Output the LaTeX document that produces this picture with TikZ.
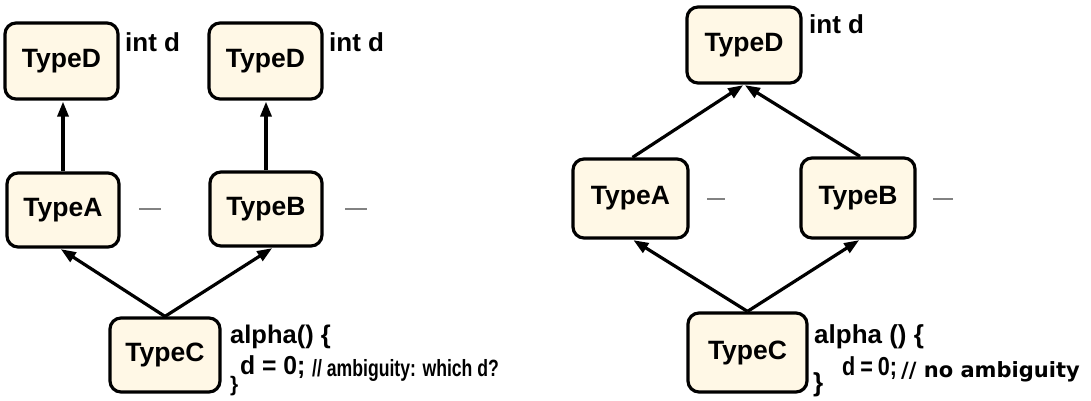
\documentclass[tikz,border=0pt]{standalone}
\usepackage{fontspec}
\setmainfont{Liberation Sans}
\newfontfamily\dvfont{DejaVu Sans}
\usepackage{graphicx}
\usetikzlibrary{arrows.meta}
\definecolor{boxfill}{RGB}{255,248,230}
\definecolor{dashgray}{RGB}{130,130,130}
\tikzset{
  tbox/.style={draw=black, line width=3.2pt, rounded corners=11pt, fill=boxfill,
    inner sep=0pt, font=\fontsize{26.5}{30}\selectfont\bfseries},
  conn/.style={line width=3.2pt, -{Triangle[length=15pt,width=11pt]}, shorten >=1pt},
  lbl/.style={anchor=base west, inner sep=0pt, font=\fontsize{25}{28}\selectfont\bfseries},
  dashmark/.style={draw=dashgray, line width=1.5pt}
}
\begin{document}
\begin{tikzpicture}[x=1pt,y=-1pt]
\useasboundingbox (0,0) rectangle (1091,400);
% ---------- left ----------
\node[tbox, minimum width=113pt, minimum height=76pt] (D1) at (61.5,61) {TypeD};
\node[tbox, minimum width=113pt, minimum height=76pt] (D2) at (265.5,61) {TypeD};
\node[tbox, minimum width=112pt, minimum height=74pt] (A1) at (63,210) {TypeA};
\node[tbox, minimum width=112pt, minimum height=74pt] (B1) at (266,209) {TypeB};
\node[tbox, minimum width=110pt, minimum height=74pt] (C1) at (165,355) {TypeC};
\node[lbl, font=\fontsize{26}{30}\selectfont\bfseries] (iD1) at (125,51) {int d};
\node[lbl, font=\fontsize{26}{30}\selectfont\bfseries] (iD2) at (329,51) {int d};
\coordinate (a1s) at (345,209); \coordinate (a1e) at (367,209);
\coordinate (m1s) at (139,209); \coordinate (m1e) at (161,209);
\draw[dashmark] (m1s) -- (m1e);
\draw[dashmark] (a1s) -- (a1e);
\draw[conn] (A1.north) -- (A1.north |- D1.south);
\draw[conn] (B1.north) -- (B1.north |- D2.south);
\draw[conn] (C1.north) -- ([xshift=-3pt]A1.south);
\draw[conn] (C1.north) -- ([xshift=7pt]B1.south);
\node[lbl, font=\fontsize{25.5}{28}\selectfont\bfseries] (al1) at (230,343) {alpha() \{};
\node[lbl, font=\fontsize{26}{28}\selectfont\bfseries] (d1) at (240,374) {\scalebox{0.95}[1]{d = 0;}};
\node[lbl, font=\fontsize{23.5}{26}\selectfont\bfseries] (c1) at (312,376) {\scalebox{0.75}[1]{// ambiguity: which d?}};
\node[lbl, font=\fontsize{21}{24}\selectfont\bfseries] (b1) at (230,391) {\}};
% ---------- right ----------
\node[tbox, minimum width=114pt, minimum height=76pt] (D) at (744,45) {TypeD};
\node[tbox, minimum width=115pt, minimum height=79pt] (A) at (630.5,198.5) {TypeA};
\node[tbox, minimum width=114pt, minimum height=80pt] (B) at (858,198) {TypeB};
\node[tbox, minimum width=119pt, minimum height=79pt] (C) at (747.5,352.5) {TypeC};
\node[lbl, font=\fontsize{26}{30}\selectfont\bfseries] (iD) at (809,33) {int d};
\coordinate (m2s) at (707,199); \coordinate (m2e) at (725,199);
\coordinate (n2s) at (933,199); \coordinate (n2e) at (953,199);
\draw[dashmark] (m2s) -- (m2e);
\draw[dashmark] (n2s) -- (n2e);
\draw[conn] ([xshift=2pt]A.north) -- (D.south);
\draw[conn] ([xshift=2pt]B.north) -- (D.south);
\draw[conn] (C.north) -- ([xshift=2pt]A.south);
\draw[conn] (C.north) -- ([xshift=2pt]B.south);
\node[lbl, font=\fontsize{26}{30}\selectfont\bfseries] (al2) at (814,343) {alpha () \{};
\node[lbl, font=\fontsize{26}{30}\selectfont\bfseries] (d2) at (842,375) {\scalebox{0.83}[1]{d\hspace{6pt}=\hspace{6pt}0;}};
\node[lbl, font=\fontsize{21}{25}\selectfont\dvfont\bfseries] (c2) at (901,377) {// no ambiguity};
\node[lbl, font=\fontsize{26}{30}\selectfont\bfseries] (b2) at (813,391) {\}};
\end{tikzpicture}
\end{document}
